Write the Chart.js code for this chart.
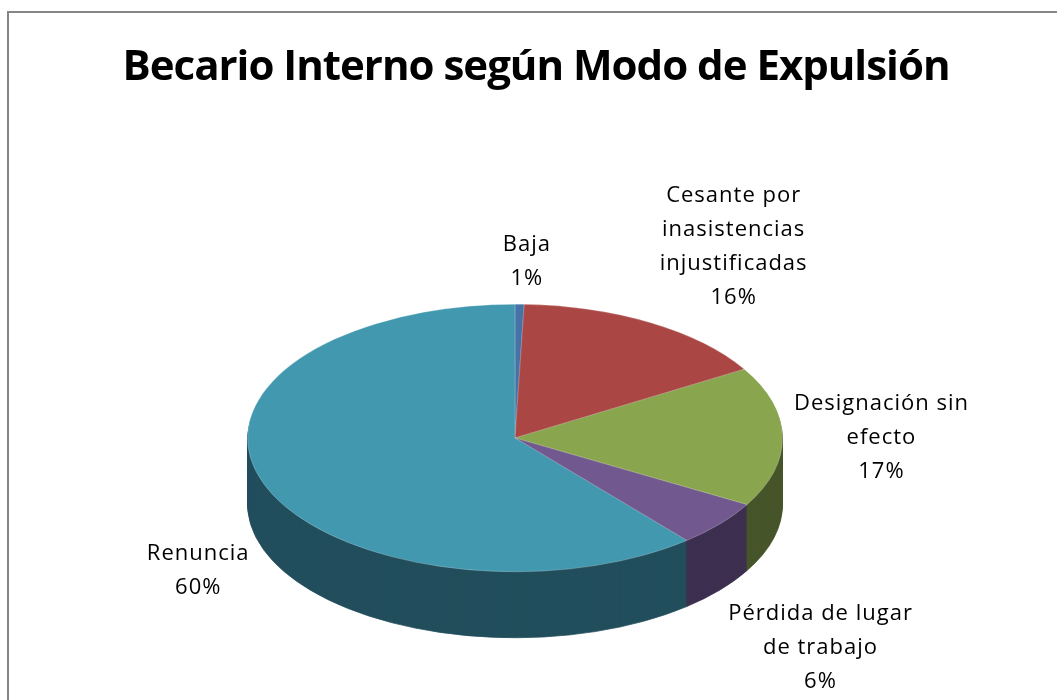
<!DOCTYPE html>
<html><head><meta charset="utf-8">
<style>html,body{margin:0;padding:0;background:#fff;overflow:hidden}#w{width:1057px;height:700px;position:relative}canvas{display:block}</style>
<script src="https://cdn.jsdelivr.net/npm/chart.js@4"></script></head>
<body><div id="w"><canvas id="c" width="1057" height="700"></canvas></div>
<script>
const titleText = 'Becario Interno según Modo de Expulsión';
const categories = ['Baja','Cesante por inasistencias injustificadas','Designación sin efecto','Pérdida de lugar de trabajo','Renuncia'];
const values = [0.55, 15.85, 16.9, 5.6, 61.1];
const percentLabels = ['1%','16%','17%','6%','60%'];
const labelLines = [['Baja'],['Cesante por','inasistencias','injustificadas'],['Designación sin','efecto'],['Pérdida de lugar','de trabajo'],['Renuncia']];
const colors = ['#4572A7','#AA4643','#89A54E','#71588F','#4198AF'];
const sideColors = ['#2A4565','#652A28','#46552A','#3D2F4F','#224E5C'];

const SQUASH = 0.5, DEPTH = 66, SHIFT_X = -21, SHIFT_Y = 66.6, LABEL_DY = 1.5;
const labelRadX = [2.56, 1.61, 1.37, 1.49, 1.26];
const labelRadY = [1.33, 1.67, 1.37, 1.66, 1.42];
function toPlane(c, chart, d){
  const a = chart.chartArea, cy = (a.top+a.bottom)/2;
  c.translate(SHIFT_X, cy+SHIFT_Y+d); c.scale(1, SQUASH); c.translate(0, -cy);
}
const pie3d = {
  id:'pie3d',
  beforeDraw(chart){
    const c = chart.ctx; c.save(); c.strokeStyle='#868686'; c.lineWidth=2;
    c.beginPath(); c.moveTo(8,701); c.lineTo(8,12); c.lineTo(1058,12); c.stroke(); c.restore();
    c.letterSpacing='-1px';
  },
  beforeDatasetsDraw(chart){
    const meta = chart.getDatasetMeta(0), c = chart.ctx;
    for (let d = DEPTH; d > 0; d -= 2) {
      c.save(); toPlane(c, chart, d);
      meta.data.forEach((arc,i)=>{
        const o = arc.options, f=o.backgroundColor, s=o.borderColor, bw=o.borderWidth;
        o.backgroundColor = sideColors[i]; o.borderColor = sideColors[i]; o.borderWidth = 1;
        arc.draw(c);
        o.backgroundColor=f; o.borderColor=s; o.borderWidth=bw;
      });
      c.restore();
    }
    c.save(); toPlane(c, chart, 0);
  },
  afterDatasetsDraw(chart){
    const c = chart.ctx; c.restore();
    const meta = chart.getDatasetMeta(0);
    const a = chart.chartArea, cy = (a.top+a.bottom)/2;
    c.save(); c.fillStyle='#000'; c.textAlign='center'; c.textBaseline='middle';
    c.font='22px "Open Sans"'; c.letterSpacing='1px';
    meta.data.forEach((arc,i)=>{
      const mid=(arc.startAngle+arc.endAngle)/2;
      const x=arc.x+SHIFT_X+Math.cos(mid)*arc.outerRadius*labelRadX[i];
      const y=cy+SHIFT_Y+LABEL_DY+Math.sin(mid)*arc.outerRadius*labelRadY[i]*SQUASH+(Math.sin(mid)>0?DEPTH:0);
      const lines=labelLines[i].concat(percentLabels[i]);
      lines.forEach((t,k)=>c.fillText(t,x,y+(k-(lines.length-1)/2)*34));
    });
    c.restore();
  }
};
new Chart(document.getElementById('c'),{
  type:'pie',
  data:{labels:categories,datasets:[{data:values,backgroundColor:colors,borderColor:'rgba(255,255,255,0.3)',borderWidth:1}]},
  options:{responsive:false,animation:false,events:[],
    layout:{padding:{left:15,right:0,top:0,bottom:60.6}},
    plugins:{legend:{display:false},tooltip:{enabled:false},
      title:{display:true,text:titleText,color:'#000',font:{family:'"Open Sans"',size:42,weight:'bold'},padding:{top:43,bottom:10}}}
  },
  plugins:[pie3d]
});
</script></body></html>
